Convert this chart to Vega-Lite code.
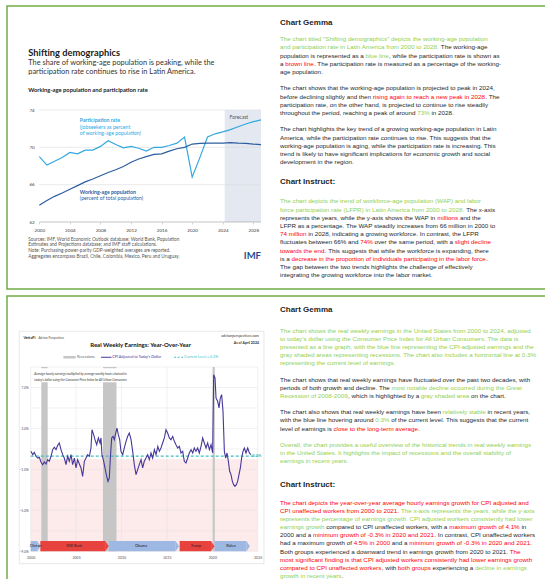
{
"$schema": "https://vega.github.io/schema/vega-lite/v6.json",
"background": "#ffffff",
"padding": {"left": 6, "top": 5, "right": 0, "bottom": 0},
"spacing": 5,
"config": {
  "view": {"stroke": "#70AD47", "strokeWidth": 1.5},
  "font": "Lato",
  "axis": {"labelFont": "Lato", "titleFont": "Lato"}
},
"datasets": {
 "imf": [
  {"year":2000,"series":"Participation rate","value":69.0},{"year":2001,"series":"Participation rate","value":68.1},{"year":2002,"series":"Participation rate","value":68.5},{"year":2003,"series":"Participation rate","value":68.9},{"year":2004,"series":"Participation rate","value":69.45},{"year":2005,"series":"Participation rate","value":69.3},{"year":2006,"series":"Participation rate","value":69.7},{"year":2007,"series":"Participation rate","value":69.7},{"year":2008,"series":"Participation rate","value":70.1},{"year":2009,"series":"Participation rate","value":70.7},{"year":2010,"series":"Participation rate","value":70.3},{"year":2011,"series":"Participation rate","value":69.95},{"year":2012,"series":"Participation rate","value":70.1},{"year":2013,"series":"Participation rate","value":69.9},{"year":2014,"series":"Participation rate","value":69.6},{"year":2015,"series":"Participation rate","value":70.0},{"year":2016,"series":"Participation rate","value":70.0},{"year":2017,"series":"Participation rate","value":70.2},{"year":2018,"series":"Participation rate","value":70.45},{"year":2019,"series":"Participation rate","value":71.1},{"year":2020,"series":"Participation rate","value":66.8},{"year":2021,"series":"Participation rate","value":68.9},{"year":2022,"series":"Participation rate","value":71.1},{"year":2023,"series":"Participation rate","value":71.45},{"year":2024,"series":"Participation rate","value":71.65},{"year":2025,"series":"Participation rate","value":71.9},{"year":2026,"series":"Participation rate","value":72.2},{"year":2027,"series":"Participation rate","value":72.5},{"year":2028,"series":"Participation rate","value":72.75},{"year":2029,"series":"Participation rate","value":72.95},
  {"year":2000,"series":"Working-age population","value":63.8},{"year":2001,"series":"Working-age population","value":64.3},{"year":2002,"series":"Working-age population","value":64.75},{"year":2003,"series":"Working-age population","value":65.1},{"year":2004,"series":"Working-age population","value":65.5},{"year":2005,"series":"Working-age population","value":65.9},{"year":2006,"series":"Working-age population","value":66.3},{"year":2007,"series":"Working-age population","value":66.6},{"year":2008,"series":"Working-age population","value":66.95},{"year":2009,"series":"Working-age population","value":67.3},{"year":2010,"series":"Working-age population","value":67.6},{"year":2011,"series":"Working-age population","value":67.95},{"year":2012,"series":"Working-age population","value":68.4},{"year":2013,"series":"Working-age population","value":68.75},{"year":2014,"series":"Working-age population","value":69.0},{"year":2015,"series":"Working-age population","value":69.25},{"year":2016,"series":"Working-age population","value":69.3},{"year":2017,"series":"Working-age population","value":69.6},{"year":2018,"series":"Working-age population","value":69.85},{"year":2019,"series":"Working-age population","value":70.0},{"year":2020,"series":"Working-age population","value":70.35},{"year":2021,"series":"Working-age population","value":70.42},{"year":2022,"series":"Working-age population","value":70.45},{"year":2023,"series":"Working-age population","value":70.45},{"year":2024,"series":"Working-age population","value":70.45},{"year":2025,"series":"Working-age population","value":70.5},{"year":2026,"series":"Working-age population","value":70.45},{"year":2027,"series":"Working-age population","value":70.42},{"year":2028,"series":"Working-age population","value":70.35},{"year":2029,"series":"Working-age population","value":70.3}
 ],
 "forecast": [{"start": 2024.25, "end": 2029}],
 "imfGrid": [{"value":62},{"value":66},{"value":70},{"value":74}],
 "earnings": [
  {"year":2000.03,"change":0.76},{"year":2000.22,"change":0.44},{"year":2000.40,"change":0.67},{"year":2000.58,"change":0.28},{"year":2000.77,"change":0.11},{"year":2000.95,"change":0.18},{"year":2001.13,"change":-0.28},{"year":2001.32,"change":-0.54},{"year":2001.50,"change":-0.28},{"year":2001.69,"change":-0.47},{"year":2001.87,"change":-0.05},{"year":2002.05,"change":-0.21},{"year":2002.24,"change":0.28},{"year":2002.42,"change":0.93},{"year":2002.60,"change":1.16},{"year":2002.79,"change":0.93},{"year":2002.97,"change":1.35},{"year":2003.15,"change":1.58},{"year":2003.34,"change":0.93},{"year":2003.52,"change":0.44},{"year":2003.70,"change":0.11},{"year":2003.89,"change":-0.54},{"year":2004.07,"change":0.28},{"year":2004.25,"change":-0.21},{"year":2004.44,"change":0.44},{"year":2004.62,"change":-0.54},{"year":2004.81,"change":0.11},{"year":2004.99,"change":-0.86},{"year":2005.17,"change":-0.05},{"year":2005.36,"change":-0.47},{"year":2005.54,"change":-0.86},{"year":2005.72,"change":-1.68},{"year":2005.91,"change":-0.21},{"year":2006.09,"change":0.11},{"year":2006.27,"change":0.44},{"year":2006.46,"change":0.28},{"year":2006.64,"change":1.09},{"year":2006.75,"change":2.88},{"year":2006.93,"change":2.39},{"year":2007.08,"change":1.90},{"year":2007.27,"change":1.41},{"year":2007.45,"change":2.07},{"year":2007.64,"change":1.58},{"year":2007.74,"change":2.07},{"year":2007.85,"change":0.44},{"year":2008.04,"change":-0.21},{"year":2008.18,"change":-0.86},{"year":2008.33,"change":-1.51},{"year":2008.51,"change":-2.17},{"year":2008.66,"change":-1.84},{"year":2008.77,"change":0.11},{"year":2008.92,"change":2.07},{"year":2009.06,"change":2.23},{"year":2009.21,"change":1.90},{"year":2009.36,"change":2.55},{"year":2009.50,"change":3.04},{"year":2009.65,"change":2.39},{"year":2009.80,"change":1.90},{"year":2009.94,"change":0.76},{"year":2010.13,"change":0.44},{"year":2010.31,"change":1.09},{"year":2010.50,"change":1.74},{"year":2010.68,"change":2.23},{"year":2010.86,"change":2.55},{"year":2011.05,"change":1.90},{"year":2011.23,"change":0.76},{"year":2011.41,"change":-0.54},{"year":2011.60,"change":-1.51},{"year":2011.78,"change":-1.03},{"year":2011.96,"change":-0.54},{"year":2012.15,"change":-0.05},{"year":2012.33,"change":-0.86},{"year":2012.51,"change":-0.21},{"year":2012.70,"change":0.11},{"year":2012.88,"change":0.44},{"year":2013.06,"change":-0.05},{"year":2013.25,"change":0.60},{"year":2013.43,"change":0.11},{"year":2013.62,"change":0.93},{"year":2013.80,"change":0.44},{"year":2014.00,"change":1.25},{"year":2014.17,"change":0.76},{"year":2014.35,"change":1.09},{"year":2014.53,"change":1.58},{"year":2014.72,"change":2.07},{"year":2014.90,"change":2.88},{"year":2015.08,"change":2.55},{"year":2015.27,"change":2.07},{"year":2015.45,"change":1.90},{"year":2015.64,"change":2.23},{"year":2015.82,"change":1.74},{"year":2016.00,"change":1.41},{"year":2016.19,"change":1.09},{"year":2016.37,"change":1.25},{"year":2016.55,"change":0.60},{"year":2016.74,"change":0.76},{"year":2016.92,"change":-0.21},{"year":2017.10,"change":-0.38},{"year":2017.29,"change":0.11},{"year":2017.47,"change":0.60},{"year":2017.66,"change":0.93},{"year":2017.84,"change":0.60},{"year":2018.02,"change":1.09},{"year":2018.20,"change":0.76},{"year":2018.39,"change":1.09},{"year":2018.57,"change":0.60},{"year":2018.76,"change":1.25},{"year":2018.94,"change":2.07},{"year":2019.12,"change":1.58},{"year":2019.31,"change":1.09},{"year":2019.49,"change":1.58},{"year":2019.68,"change":0.93},{"year":2019.86,"change":1.41},{"year":2020.04,"change":0.60},{"year":2020.15,"change":8.25},{"year":2020.30,"change":7.93},{"year":2020.41,"change":5.97},{"year":2020.59,"change":5.65},{"year":2020.74,"change":5.0},{"year":2020.88,"change":5.97},{"year":2021.03,"change":6.30},{"year":2021.18,"change":4.67},{"year":2021.33,"change":0.76},{"year":2021.47,"change":0.11},{"year":2021.62,"change":0.60},{"year":2021.77,"change":-0.21},{"year":2021.91,"change":-1.19},{"year":2022.06,"change":-1.51},{"year":2022.21,"change":-2.17},{"year":2022.35,"change":-2.49},{"year":2022.50,"change":-2.65},{"year":2022.65,"change":-2.49},{"year":2022.79,"change":-2.17},{"year":2022.94,"change":-1.51},{"year":2023.09,"change":-0.86},{"year":2023.23,"change":0.11},{"year":2023.38,"change":0.76},{"year":2023.53,"change":1.09},{"year":2023.71,"change":0.60},{"year":2023.90,"change":1.09},{"year":2024.08,"change":0.60},{"year":2024.26,"change":0.44}
 ],
 "recessions": [{"start":2001.17,"end":2001.87},{"start":2007.96,"end":2009.45},{"start":2020.05,"end":2020.28}],
 "presidents": [
  {"name":"Clinton","party":"D","start":2000.0,"end":2000.73,"mid":2000.55},
  {"name":"GW Bush","party":"R","start":2001.06,"end":2008.22,"mid":2004.8},
  {"name":"Obama","party":"D","start":2008.6,"end":2015.97,"mid":2012.15},
  {"name":"Trump","party":"R","start":2016.4,"end":2019.87,"mid":2018.2},
  {"name":"Biden","party":"D","start":2020.25,"end":2023.77,"mid":2022.06}
 ],
 "apGridY": [{"v":-9},{"v":-7},{"v":-5},{"v":-3},{"v":-1},{"v":1},{"v":3},{"v":5},{"v":7},{"v":9}],
 "apGridX": [{"v":2000},{"v":2005},{"v":2010},{"v":2015},{"v":2020},{"v":2025}],
 "textTop": [
  {"line":0,"indent":0,"tone":"head","text":"Chart Gemma"},
  {"line":2,"indent":0,"tone":"green","text":"The chart titled \"Shifting demographics\" depicts the working-age population"},
  {"line":3,"indent":0,"tone":"green","text":"and participation rate in Latin America from 2000 to 2028."},
  {"line":3,"indent":25.735,"tone":"black","text":"The working-age"},
  {"line":4,"indent":0,"tone":"black","text":"population is represented as a"},
  {"line":4,"indent":13.674,"tone":"green","text":"blue line"},
  {"line":4,"indent":17.45,"tone":"black","text":", while the participation rate is shown as"},
  {"line":5,"indent":0,"tone":"black","text":"a"},
  {"line":5,"indent":0.834,"tone":"red","text":"brown line"},
  {"line":5,"indent":5.44,"tone":"black","text":". The participation rate is measured as a percentage of the working-"},
  {"line":6,"indent":0,"tone":"black","text":"age population."},
  {"line":8,"indent":0,"tone":"black","text":"The chart shows that the working-age population is projected to peak in 2024,"},
  {"line":9,"indent":0,"tone":"black","text":"before declining slightly and then"},
  {"line":9,"indent":14.841,"tone":"red","text":"rising again to reach a new peak in 2028"},
  {"line":9,"indent":32.85,"tone":"black","text":". The"},
  {"line":10,"indent":0,"tone":"black","text":"participation rate, on the other hand, is projected to continue to rise steadily"},
  {"line":11,"indent":0,"tone":"black","text":"throughout the period, reaching a peak of around"},
  {"line":11,"indent":21.958,"tone":"green","text":"73%"},
  {"line":11,"indent":24.237,"tone":"black","text":"in 2028."},
  {"line":13,"indent":0,"tone":"black","text":"The chart highlights the key trend of a growing working-age population in Latin"},
  {"line":14,"indent":0,"tone":"black","text":"America, while the participation rate continues to rise. This suggests that the"},
  {"line":15,"indent":0,"tone":"black","text":"working-age population is aging, while the participation rate is increasing. This"},
  {"line":16,"indent":0,"tone":"black","text":"trend is likely to have significant implications for economic growth and social"},
  {"line":17,"indent":0,"tone":"black","text":"development in the region."},
  {"line":19.4,"indent":0,"tone":"head","text":"Chart Instruct:"},
  {"line":21.8,"indent":0,"tone":"green","text":"The chart depicts the trend of workforce-age population (WAP) and labor"},
  {"line":22.8,"indent":0,"tone":"green","text":"force participation rate (LFPR) in Latin America from 2000 to 2028."},
  {"line":22.8,"indent":29.79,"tone":"black","text":"The x-axis"},
  {"line":23.8,"indent":0,"tone":"black","text":"represents the years, while the y-axis shows the WAP in"},
  {"line":23.8,"indent":25.176,"tone":"red","text":"millions"},
  {"line":23.8,"indent":28.787,"tone":"black","text":"and the"},
  {"line":24.8,"indent":0,"tone":"black","text":"LFPR as a percentage. The WAP steadily increases from 66 million in 2000 to"},
  {"line":25.8,"indent":0,"tone":"red","text":"74 million"},
  {"line":25.8,"indent":4.501,"tone":"black","text":"in 2028, indicating a growing workforce. In contrast, the LFPR"},
  {"line":26.8,"indent":0,"tone":"black","text":"fluctuates between 66% and"},
  {"line":26.8,"indent":12.841,"tone":"red","text":"74%"},
  {"line":26.8,"indent":15.12,"tone":"black","text":"over the same period, with a"},
  {"line":26.8,"indent":27.959,"tone":"red","text":"slight decline"},
  {"line":27.8,"indent":0,"tone":"red","text":"towards the end"},
  {"line":27.8,"indent":7.17,"tone":"black","text":". This suggests that while the workforce is expanding, there"},
  {"line":28.8,"indent":0,"tone":"black","text":"is a"},
  {"line":28.8,"indent":1.834,"tone":"red","text":"decrease in the proportion of individuals participating in the labor force"},
  {"line":28.8,"indent":32.95,"tone":"black","text":"."},
  {"line":29.8,"indent":0,"tone":"black","text":"The gap between the two trends highlights the challenge of effectively"},
  {"line":30.8,"indent":0,"tone":"black","text":"integrating the growing workforce into the labor market."}
 ],
 "textBottom": [
  {"line":-0.5,"indent":0,"tone":"head","text":"Chart Gemma"},
  {"line":2,"indent":0,"tone":"green","text":"The chart shows the real weekly earnings in the United States from 2000 to 2024, adjusted"},
  {"line":3,"indent":0,"tone":"green","text":"to today's dollar using the Consumer Price Index for All Urban Consumers. The data is"},
  {"line":4,"indent":0,"tone":"green","text":"presented as a line graph, with the blue line representing the CPI-adjusted earnings and the"},
  {"line":5,"indent":0,"tone":"green","text":"gray shaded areas representing recessions. The chart also includes a horizontal line at 0.3%"},
  {"line":6,"indent":0,"tone":"green","text":"representing the current level of earnings."},
  {"line":8,"indent":0,"tone":"black","text":"The chart shows that real weekly earnings have fluctuated over the past two decades, with"},
  {"line":9,"indent":0,"tone":"black","text":"periods of both growth and decline. The"},
  {"line":9,"indent":17.843,"tone":"green","text":"most notable decline occurred during the Great"},
  {"line":10,"indent":0,"tone":"green","text":"Recession of 2008-2009"},
  {"line":10,"indent":10.89,"tone":"black","text":", which is highlighted by a"},
  {"line":10,"indent":22.511,"tone":"green","text":"gray shaded area"},
  {"line":10,"indent":30.571,"tone":"black","text":"on the chart."},
  {"line":12,"indent":0,"tone":"black","text":"The chart also shows that real weekly earnings have been"},
  {"line":12,"indent":26.012,"tone":"green","text":"relatively stable"},
  {"line":12,"indent":33.181,"tone":"black","text":"in recent years,"},
  {"line":13,"indent":0,"tone":"black","text":"with the blue line hovering around"},
  {"line":13,"indent":15.23,"tone":"green","text":"0.3%"},
  {"line":13,"indent":17.787,"tone":"black","text":"of the current level. This suggests that the current"},
  {"line":14,"indent":0,"tone":"black","text":"level of earnings is"},
  {"line":14,"indent":8.559,"tone":"red","text":"close to the long-term average"},
  {"line":14,"indent":22.12,"tone":"black","text":"."},
  {"line":16,"indent":0,"tone":"green","text":"Overall, the chart provides a useful overview of the historical trends in real weekly earnings"},
  {"line":17,"indent":0,"tone":"green","text":"in the United States. It highlights the impact of recessions and the overall stability of"},
  {"line":18,"indent":0,"tone":"green","text":"earnings in recent years."},
  {"line":20.9,"indent":0,"tone":"head","text":"Chart Instruct:"},
  {"line":23.1,"indent":0,"tone":"red","text":"The chart depicts the year-over-year average hourly earnings growth for CPI adjusted and"},
  {"line":24.1,"indent":0,"tone":"red","text":"CPI unaffected workers from 2000 to 2021."},
  {"line":24.1,"indent":19.343,"tone":"green","text":"The x-axis represents the years, while the y-axis"},
  {"line":25.1,"indent":0,"tone":"green","text":"represents the percentage of earnings growth. CPI adjusted workers consistently had lower"},
  {"line":26.1,"indent":0,"tone":"green","text":"earnings growth"},
  {"line":26.1,"indent":7.392,"tone":"black","text":"compared to CPI unaffected workers, with a"},
  {"line":26.1,"indent":27.067,"tone":"red","text":"maximum growth of 4.1%"},
  {"line":26.1,"indent":38.626,"tone":"black","text":"in"},
  {"line":27.1,"indent":0,"tone":"black","text":"2000 and a"},
  {"line":27.1,"indent":5.282,"tone":"red","text":"minimum growth of -0.3% in 2020 and 2021"},
  {"line":27.1,"indent":24.68,"tone":"black","text":". In contrast, CPI unaffected workers"},
  {"line":28.1,"indent":0,"tone":"black","text":"had a maximum growth of"},
  {"line":28.1,"indent":11.782,"tone":"red","text":"4.5% in 2000"},
  {"line":28.1,"indent":17.897,"tone":"black","text":"and a"},
  {"line":28.1,"indent":20.677,"tone":"red","text":"minimum growth of -0.3% in 2020 and 2021."},
  {"line":29.1,"indent":0,"tone":"black","text":"Both groups experienced a downward trend in earnings growth from 2020 to 2021."},
  {"line":29.1,"indent":36.741,"tone":"red","text":"The"},
  {"line":30.1,"indent":0,"tone":"red","text":"most significant finding is that CPI adjusted workers consistently had lower earnings growth"},
  {"line":31.1,"indent":0,"tone":"red","text":"compared to CPI unaffected workers"},
  {"line":31.1,"indent":16.28,"tone":"black","text":", with"},
  {"line":31.1,"indent":18.841,"tone":"red","text":"both groups"},
  {"line":31.1,"indent":24.4,"tone":"black","text":"experiencing a"},
  {"line":31.1,"indent":31.181,"tone":"green","text":"decline in earnings"},
  {"line":32.1,"indent":0,"tone":"green","text":"growth in recent years"},
  {"line":32.1,"indent":9.89,"tone":"black","text":"."}
 ]
},
"vconcat": [
 {
  "width": 539, "height": 283,
  "resolve": {"scale": {"x": "independent", "y": "independent", "color": "independent"}},
  "layer": [
   {
    "layer": [
     {
      "data": {"name": "forecast"},
      "mark": {"type": "rect", "color": "#e3e8f1"},
      "encoding": {
       "x": {"field": "start", "type": "quantitative", "title": null,
             "scale": {"domain": [2000, 2029], "range": [32.3, 254], "nice": false, "zero": false},
             "axis": {"title": null, "orient": "bottom", "offset": -67, "values": [2000,2004,2008,2012,2016,2020,2024,2028], "format": "d", "labelFontSize": 4.6, "labelColor": "#444444", "domain": false, "ticks": true, "tickSize": 2, "tickColor": "#aaaaaa", "tickWidth": 0.5, "labelPadding": 3, "grid": false, "labelOverlap": false, "labelFlush": false}},
       "x2": {"field": "end"},
       "y": {"datum": 62, "type": "quantitative", "title": null,
             "scale": {"domain": [62, 74], "range": [216, 104], "nice": false, "zero": false},
             "axis": {"title": null, "orient": "left", "offset": -32.3, "values": [62,66,70,74], "labelFontSize": 4.6, "labelColor": "#444444", "domain": false, "ticks": false, "labelPadding": 5, "grid": false, "labelOverlap": false, "labelFlush": false}},
       "y2": {"datum": 74}
      }
     },
     {
      "data": {"name": "imfGrid"},
      "mark": {"type": "rule", "strokeWidth": 0.6},
      "encoding": {
       "y": {"field": "value", "type": "quantitative", "title": null},
       "x": {"datum": 2000}, "x2": {"datum": 2029},
       "color": {"condition": {"test": "datum.value === 62", "value": "#9a9a9a"}, "value": "#dcdcdc"}
      }
     },
     {
      "data": {"name": "imf"},
      "mark": {"type": "line", "strokeWidth": 1.2},
      "encoding": {
       "x": {"field": "year", "type": "quantitative", "title": null},
       "y": {"field": "value", "type": "quantitative", "title": null},
       "color": {"field": "series", "type": "nominal", "scale": {"domain": ["Participation rate", "Working-age population"], "range": ["#34a8df", "#2c5d9f"]}, "legend": null}
      }
     },
     {"data": {"values": [{}]}, "mark": {"type": "text", "text": "Shifting demographics", "fontSize": 9.3, "fontWeight": "bold", "align": "left", "baseline": "middle", "color": "#1a1a1a"}, "encoding": {"x": {"datum": 1998.56}, "y": {"datum": 80.1}}},
     {"data": {"values": [{}]}, "mark": {"type": "text", "text": "The share of working-age population is peaking, while the", "fontSize": 7.4, "align": "left", "baseline": "middle", "color": "#333333"}, "encoding": {"x": {"datum": 1998.56}, "y": {"datum": 79.0}}},
     {"data": {"values": [{}]}, "mark": {"type": "text", "text": "participation rate continues to rise in Latin America.", "fontSize": 7.4, "align": "left", "baseline": "middle", "color": "#333333"}, "encoding": {"x": {"datum": 1998.56}, "y": {"datum": 78.07}}},
     {"data": {"values": [{}]}, "mark": {"type": "text", "text": "Working-age population and participation rate", "fontSize": 5.8, "fontWeight": "bold", "align": "left", "baseline": "middle", "color": "#222222"}, "encoding": {"x": {"datum": 1998.56}, "y": {"datum": 76.1}}},
     {"data": {"values": [{}]}, "mark": {"type": "text", "text": "Participation rate", "fontSize": 5.2, "fontWeight": "bold", "align": "left", "baseline": "middle", "color": "#34a8df"}, "encoding": {"x": {"datum": 2005.3}, "y": {"datum": 72.93}}},
     {"data": {"values": [{}]}, "mark": {"type": "text", "text": "(jobseekers as percent", "fontSize": 5.2, "align": "left", "baseline": "middle", "color": "#34a8df"}, "encoding": {"x": {"datum": 2005.3}, "y": {"datum": 72.2}}},
     {"data": {"values": [{}]}, "mark": {"type": "text", "text": "of working-age population)", "fontSize": 5.2, "align": "left", "baseline": "middle", "color": "#34a8df"}, "encoding": {"x": {"datum": 2005.3}, "y": {"datum": 71.55}}},
     {"data": {"values": [{}]}, "mark": {"type": "text", "text": "Working-age population", "fontSize": 5.2, "fontWeight": "bold", "align": "left", "baseline": "middle", "color": "#2c5d9f"}, "encoding": {"x": {"datum": 2005.3}, "y": {"datum": 65.2}}},
     {"data": {"values": [{}]}, "mark": {"type": "text", "text": "(percent of total population)", "fontSize": 5.2, "align": "left", "baseline": "middle", "color": "#2c5d9f"}, "encoding": {"x": {"datum": 2005.3}, "y": {"datum": 64.57}}},
     {"data": {"values": [{}]}, "mark": {"type": "text", "text": "Forecast", "fontSize": 5, "align": "center", "baseline": "middle", "color": "#555555"}, "encoding": {"x": {"datum": 2026.1}, "y": {"datum": 73.25}}},
     {"data": {"values": [{}]}, "mark": {"type": "text", "text": "Sources: IMF, World Economic Outlook database; World Bank, Population", "fontSize": 4.7, "align": "left", "baseline": "middle", "color": "#555555"}, "encoding": {"x": {"datum": 1998.56}, "y": {"datum": 60.04}}},
     {"data": {"values": [{}]}, "mark": {"type": "text", "text": "Estimates and Projections database; and IMF staff calculations.", "fontSize": 4.7, "align": "left", "baseline": "middle", "color": "#555555"}, "encoding": {"x": {"datum": 1998.56}, "y": {"datum": 59.5}}},
     {"data": {"values": [{}]}, "mark": {"type": "text", "text": "Note: Purchasing-power-parity GDP-weighted averages are reported.", "fontSize": 4.7, "align": "left", "baseline": "middle", "color": "#555555"}, "encoding": {"x": {"datum": 1998.56}, "y": {"datum": 58.93}}},
     {"data": {"values": [{}]}, "mark": {"type": "text", "text": "Aggregates encompass Brazil, Chile, Colombia, Mexico, Peru and Uruguay.", "fontSize": 4.7, "align": "left", "baseline": "middle", "color": "#555555"}, "encoding": {"x": {"datum": 1998.56}, "y": {"datum": 58.3}}},
     {"data": {"values": [{}]}, "mark": {"type": "text", "text": "IMF", "fontSize": 9.5, "fontWeight": "bold", "align": "right", "baseline": "middle", "color": "#1f4e8f"}, "encoding": {"x": {"datum": 2029}, "y": {"datum": 58.36}}}
    ]
   },
   {
    "data": {"name": "textTop"},
    "layer": [
     {
      "transform": [{"filter": "datum.tone !== 'head'"}],
      "mark": {"type": "text", "align": "left", "baseline": "middle", "fontSize": 6.25, "font": "Liberation Sans"},
      "encoding": {
       "x": {"field": "indent", "type": "quantitative", "scale": {"domain": [0, 100], "range": [273, 898], "nice": false, "zero": false}, "axis": null},
       "y": {"field": "line", "type": "quantitative", "scale": {"domain": [0, 30], "range": [16.7, 262.7], "nice": false, "zero": false}, "axis": null},
       "text": {"field": "text"},
       "color": {"field": "tone", "type": "nominal", "scale": {"domain": ["black", "green", "red", "head"], "range": ["#1f1f1f", "#92d050", "#ff0000", "#1f1f1f"]}, "legend": null}
      }
     },
     {
      "transform": [{"filter": "datum.tone === 'head'"}],
      "mark": {"type": "text", "align": "left", "baseline": "middle", "fontSize": 8, "fontWeight": "bold", "font": "Liberation Sans", "color": "#1f1f1f"},
      "encoding": {
       "x": {"field": "indent", "type": "quantitative"},
       "y": {"field": "line", "type": "quantitative"},
       "text": {"field": "text"}
      }
     }
    ]
   }
  ]
 },
 {
  "width": 539, "height": 284,
  "resolve": {"scale": {"x": "independent", "y": "independent", "color": "independent"}},
  "layer": [
   {
    "layer": [
     {
      "data": {"values": [{}]},
      "mark": {"type": "rect", "filled": false, "color": "#d9d9d9", "strokeWidth": 0.6},
      "encoding": {
       "x": {"datum": 1998.74, "type": "quantitative", "title": null,
             "scale": {"domain": [2000, 2025], "range": [23.7, 250.7], "nice": false, "zero": false},
             "axis": {"title": null, "orient": "bottom", "offset": -28.7, "values": [2000,2005,2010,2015,2020,2025], "format": "d", "labelFontSize": 3.6, "labelColor": "#555555", "domain": false, "ticks": false, "labelPadding": 4.5, "grid": false, "labelOverlap": false, "labelFlush": false}},
       "x2": {"datum": 2025.69},
       "y": {"datum": 12.49, "type": "quantitative", "title": null,
             "scale": {"domain": [-9, 9], "range": [255.3, 71], "nice": false, "zero": false},
             "axis": {"title": null, "orient": "left", "offset": -23.7, "values": [-9,-7,-5,-3,-1,1,3,5,7,9], "labelExpr": "format(datum.value, '.1f') + '%'", "labelFontSize": 3.4, "labelColor": "#555555", "domain": false, "ticks": false, "labelPadding": 2.5, "grid": false, "labelOverlap": false, "labelFlush": false}},
       "y2": {"datum": -10.21}
      }
     },
     {
      "data": {"values": [{}]},
      "mark": {"type": "rect", "color": "#fdeaea"},
      "encoding": {"x": {"datum": 2000}, "x2": {"datum": 2025}, "y": {"datum": 0}, "y2": {"datum": -9}}
     },
     {
      "data": {"name": "apGridY"},
      "mark": {"type": "rule", "color": "#e2e2e2", "strokeWidth": 0.5},
      "encoding": {"y": {"field": "v", "type": "quantitative", "title": null}, "x": {"datum": 2000}, "x2": {"datum": 2025}}
     },
     {
      "data": {"name": "apGridX"},
      "mark": {"type": "rule", "color": "#e2e2e2", "strokeWidth": 0.5},
      "encoding": {"x": {"field": "v", "type": "quantitative", "title": null}, "y": {"datum": -9}, "y2": {"datum": 9}}
     },
     {
      "data": {"name": "recessions"},
      "mark": {"type": "rect", "color": "#c6c6c6"},
      "encoding": {"x": {"field": "start", "type": "quantitative", "title": null}, "x2": {"field": "end"}, "y": {"datum": -9}, "y2": {"datum": 9}}
     },
     {
      "data": {"values": [{}]},
      "mark": {"type": "rect", "color": "#ffffff"},
      "encoding": {"x": {"datum": 2000.2}, "x2": {"datum": 2011.2}, "y": {"datum": 8.87}, "y2": {"datum": 7.5}}
     },
     {"data": {"values": [{}]}, "mark": {"type": "text", "text": "Average hourly earnings multiplied by average weekly hours chained in", "fontSize": 3.2, "fontStyle": "italic", "align": "left", "baseline": "middle", "color": "#333333"}, "encoding": {"x": {"datum": 2000.4}, "y": {"datum": 8.35}}},
     {"data": {"values": [{}]}, "mark": {"type": "text", "text": "today's dollar using the  Consumer Price Index for All Urban Consumers", "fontSize": 3.2, "fontStyle": "italic", "align": "left", "baseline": "middle", "color": "#333333"}, "encoding": {"x": {"datum": 2000.4}, "y": {"datum": 7.76}}},
     {
      "data": {"values": [{}]},
      "mark": {"type": "rule", "color": "#3fbfbf", "strokeDash": [3, 2], "strokeWidth": 1.2},
      "encoding": {"x": {"datum": 2000}, "x2": {"datum": 2025}, "y": {"datum": 0.3}}
     },
     {
      "data": {"name": "earnings"},
      "mark": {"type": "line", "color": "#46379a", "strokeWidth": 1.1},
      "encoding": {"x": {"field": "year", "type": "quantitative", "title": null}, "y": {"field": "change", "type": "quantitative", "title": null}}
     },
     {
      "data": {"name": "presidents"},
      "mark": {"type": "rect"},
      "encoding": {
       "x": {"field": "start", "type": "quantitative", "title": null}, "x2": {"field": "end"},
       "y": {"datum": -9}, "y2": {"datum": -8.0},
       "color": {"field": "party", "type": "nominal", "scale": {"domain": ["D", "R"], "range": ["#9db8e2", "#e8423f"]}, "legend": null}
      }
     },
     {
      "data": {"name": "presidents"},
      "mark": {"type": "point", "shape": "M0,-1L0.65,0L0,1Z", "filled": true, "size": 105, "opacity": 1},
      "encoding": {
       "x": {"field": "end", "type": "quantitative", "title": null},
       "y": {"datum": -8.5},
       "color": {"field": "party", "type": "nominal", "legend": null}
      }
     },
     {
      "data": {"name": "presidents"},
      "mark": {"type": "text", "fontSize": 3.8, "align": "center", "baseline": "middle", "color": "#222222"},
      "encoding": {"x": {"field": "mid", "type": "quantitative", "title": null}, "y": {"datum": -8.5}, "text": {"field": "name"}}
     },
     {"data": {"values": [{}]}, "mark": {"type": "text", "text": "0.3%", "fontSize": 4.2, "fontWeight": "bold", "align": "left", "baseline": "middle", "color": "#3fbfbf"}, "encoding": {"x": {"datum": 2024.4}, "y": {"datum": 0.3}}},
     {"data": {"values": [{}]}, "mark": {"type": "text", "text": "VettaFi", "fontSize": 3.8, "fontWeight": "bold", "align": "left", "baseline": "middle", "color": "#222222"}, "encoding": {"x": {"datum": 1999.2}, "y": {"datum": 11.83}}},
     {"data": {"values": [{}]}, "mark": {"type": "text", "text": "Advisor Perspectives", "fontSize": 2.8, "align": "left", "baseline": "middle", "color": "#444444"}, "encoding": {"x": {"datum": 2000.86}, "y": {"datum": 11.83}}},
     {"data": {"values": [{}]}, "mark": {"type": "text", "text": "advisorperspectives.com", "fontSize": 3.5, "align": "right", "baseline": "middle", "color": "#333333"}, "encoding": {"x": {"datum": 2025.14}, "y": {"datum": 12.0}}},
     {"data": {"values": [{}]}, "mark": {"type": "text", "text": "As of April 2024", "fontSize": 3.5, "fontWeight": "bold", "align": "right", "baseline": "middle", "color": "#333333"}, "encoding": {"x": {"datum": 2025.14}, "y": {"datum": 11.39}}},
     {"data": {"values": [{}]}, "mark": {"type": "text", "text": "Real Weekly Earnings: Year-Over-Year", "font": "Lato", "fontSize": 6, "fontWeight": "bold", "align": "center", "baseline": "middle", "color": "#111111"}, "encoding": {"x": {"datum": 2012.1}, "y": {"datum": 11.15}}},
     {"data": {"values": [{}]}, "mark": {"type": "rect", "color": "#c6c6c6"}, "encoding": {"x": {"datum": 2003.6}, "x2": {"datum": 2004.95}, "y": {"datum": 10.08}, "y2": {"datum": 9.82}}},
     {"data": {"values": [{}]}, "mark": {"type": "text", "text": "Recessions", "fontSize": 3.7, "align": "left", "baseline": "middle", "color": "#666666"}, "encoding": {"x": {"datum": 2005.1}, "y": {"datum": 9.95}}},
     {"data": {"values": [{}]}, "mark": {"type": "rule", "color": "#46379a", "strokeWidth": 1}, "encoding": {"x": {"datum": 2007.74}, "x2": {"datum": 2008.9}, "y": {"datum": 9.95}}},
     {"data": {"values": [{}]}, "mark": {"type": "text", "text": "CPI Adjusted to Today's Dollar", "fontSize": 3.7, "align": "left", "baseline": "middle", "color": "#46379a"}, "encoding": {"x": {"datum": 2008.99}, "y": {"datum": 9.95}}},
     {"data": {"values": [{}]}, "mark": {"type": "rule", "color": "#3fbfbf", "strokeWidth": 1, "strokeDash": [2, 1.5]}, "encoding": {"x": {"datum": 2015.8}, "x2": {"datum": 2016.8}, "y": {"datum": 9.95}}},
     {"data": {"values": [{}]}, "mark": {"type": "text", "text": "Current Level = 0.3%", "fontSize": 3.7, "align": "left", "baseline": "middle", "color": "#3fbfbf"}, "encoding": {"x": {"datum": 2016.92}, "y": {"datum": 9.95}}}
    ]
   },
   {
    "data": {"name": "textBottom"},
    "layer": [
     {
      "transform": [{"filter": "datum.tone !== 'head'"}],
      "mark": {"type": "text", "align": "left", "baseline": "middle", "fontSize": 6.25, "font": "Liberation Sans"},
      "encoding": {
       "x": {"field": "indent", "type": "quantitative", "scale": {"domain": [0, 100], "range": [273, 898], "nice": false, "zero": false}, "axis": null},
       "y": {"field": "line", "type": "quantitative", "scale": {"domain": [0, 30], "range": [18.4, 262.9], "nice": false, "zero": false}, "axis": null},
       "text": {"field": "text"},
       "color": {"field": "tone", "type": "nominal", "scale": {"domain": ["black", "green", "red", "head"], "range": ["#1f1f1f", "#92d050", "#ff0000", "#1f1f1f"]}, "legend": null}
      }
     },
     {
      "transform": [{"filter": "datum.tone === 'head'"}],
      "mark": {"type": "text", "align": "left", "baseline": "middle", "fontSize": 8, "fontWeight": "bold", "font": "Liberation Sans", "color": "#1f1f1f"},
      "encoding": {
       "x": {"field": "indent", "type": "quantitative"},
       "y": {"field": "line", "type": "quantitative"},
       "text": {"field": "text"}
      }
     }
    ]
   }
  ]
 }
]
}
